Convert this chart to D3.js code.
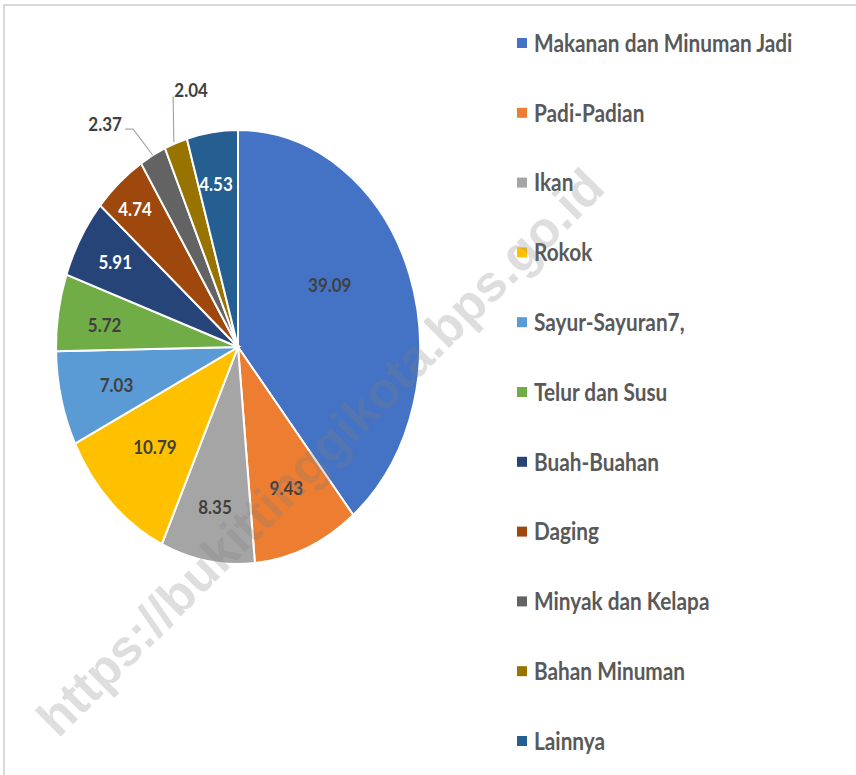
<!DOCTYPE html>
<html>
<head>
<meta charset="utf-8">
<script src="https://cdn.jsdelivr.net/npm/d3@7"></script>
<style>
  html, body { margin: 0; padding: 0; background: #ffffff; }
  svg { display: block; }
</style>
</head>
<body>
<svg id="chart" width="856" height="775"></svg>
<script>
// ---- data ----
const categories = [
  "Makanan dan Minuman Jadi", "Padi-Padian", "Ikan", "Rokok", "Sayur-Sayuran7,",
  "Telur dan Susu", "Buah-Buahan", "Daging", "Minyak dan Kelapa", "Bahan Minuman", "Lainnya"
];
const values = [39.09, 9.43, 8.35, 10.79, 7.03, 5.72, 5.91, 4.74, 2.37, 2.04, 4.53];
const valueLabels = ["39.09", "9.43", "8.35", "10.79", "7.03", "5.72", "5.91", "4.74", "2.37", "2.04", "4.53"];
const watermark = "https://bukittinggikota.bps.go.id";

// ---- style / layout ----
const colors = ["#4472C4", "#ED7D31", "#A5A5A5", "#FFC000", "#5B9BD5", "#70AD47",
                "#264478", "#9E480E", "#636363", "#997300", "#255E91"];
const labelFill = ["#404040", "#404040", "#404040", "#404040", "#404040", "#404040",
                   "#ffffff", "#ffffff", "#404040", "#404040", "#ffffff"];
const labelRadius = [0.58, 0.70, 0.75, 0.65, 0.69, 0.74, 0.78, 0.85, 1.26, 1.21, 0.76];
const labelShiftDeg = [-10, 0, 0, 0.5, -0.8, -1.3, 0, -1, -7.5, 7.7, -1];
const outside = [false, false, false, false, false, false, false, false, true, true, false];

const cx = 238, cy = 347, rx = 182, ry = 217;
const ky = ry / rx;
const font = "Lato, 'Open Sans', 'DejaVu Sans', sans-serif";

const svg = d3.select("#chart");

// border
svg.append("line").attr("x1", 4).attr("x2", 856).attr("y1", 5).attr("y2", 5)
  .attr("stroke", "#d9d9d9").attr("stroke-width", 2);
svg.append("line").attr("x1", 4).attr("x2", 4).attr("y1", 4).attr("y2", 775)
  .attr("stroke", "#d9d9d9").attr("stroke-width", 2);

const pie = d3.pie().sort(null).value(d => d);
const arcs = pie(values);
const arc = d3.arc().innerRadius(0).outerRadius(rx);

const g = svg.append("g").attr("transform", `translate(${cx},${cy}) scale(1,${ky})`);
g.selectAll("path").data(arcs).join("path")
  .attr("d", arc)
  .attr("fill", (d, i) => colors[i])
  .attr("stroke", "#ffffff")
  .attr("stroke-width", 2)
  .attr("vector-effect", "non-scaling-stroke");

function pt(angle, r) {
  return [cx + Math.sin(angle) * r * rx, cy - Math.cos(angle) * r * ry];
}

// leader lines for outside labels
arcs.forEach((d, i) => {
  if (!outside[i]) return;
  const mid = (d.startAngle + d.endAngle) / 2;
  const edge = pt(mid, 1.0);
  const a = mid + labelShiftDeg[i] * Math.PI / 180;
  const L = pt(a, labelRadius[i]);
  const halfW = 17;
  let points;
  if (L[0] + halfW + 10 < edge[0] - 5) {
    const s = [L[0] + halfW + 3, L[1] + 5];
    points = [s, [s[0] + 8, s[1]], edge];
  } else {
    const s = [L[0] - halfW - 1, L[1] + 6];
    points = [s, [edge[0] - 2, edge[1] - 1]];
  }
  svg.append("polyline")
    .attr("points", points.map(p => p.join(",")).join(" "))
    .attr("fill", "none").attr("stroke", "#a6a6a6").attr("stroke-width", 1.2);
});

// value labels
arcs.forEach((d, i) => {
  const mid = (d.startAngle + d.endAngle) / 2 + labelShiftDeg[i] * Math.PI / 180;
  const p = pt(mid, labelRadius[i]);
  svg.append("text")
    .attr("transform", `translate(${p[0]},${p[1]}) scale(1,1.15)`)
    .attr("text-anchor", "middle")
    .attr("dy", "0.36em")
    .attr("font-family", font)
    .attr("font-weight", "bold")
    .attr("font-size", 17)
    .attr("fill", labelFill[i])
    .text(valueLabels[i]);
});

// legend
const legendY = d3.scalePoint().domain(categories).range([43, 741]);
const lg = svg.append("g");
categories.forEach((c, i) => {
  const y = legendY(c);
  lg.append("rect").attr("x", 517).attr("y", y - 5).attr("width", 10).attr("height", 10)
    .attr("fill", colors[i]);
  lg.append("text")
    .attr("transform", `translate(534,${y}) scale(1,1.17)`)
    .attr("dy", "0.36em")
    .attr("font-family", font)
    .attr("font-weight", "bold")
    .attr("font-size", 20.8)
    .attr("fill", "#595959")
    .text(c);
});

// watermark
svg.append("text")
  .attr("transform", "translate(320,452) rotate(-45)")
  .attr("text-anchor", "middle")
  .attr("dy", "0.35em")
  .attr("font-family", "'Liberation Sans', Arial, sans-serif")
  .attr("font-weight", "bold")
  .attr("font-size", 51)
  .attr("fill", "#808080")
  .attr("fill-opacity", 0.26)
  .text(watermark);
</script>
</body>
</html>
